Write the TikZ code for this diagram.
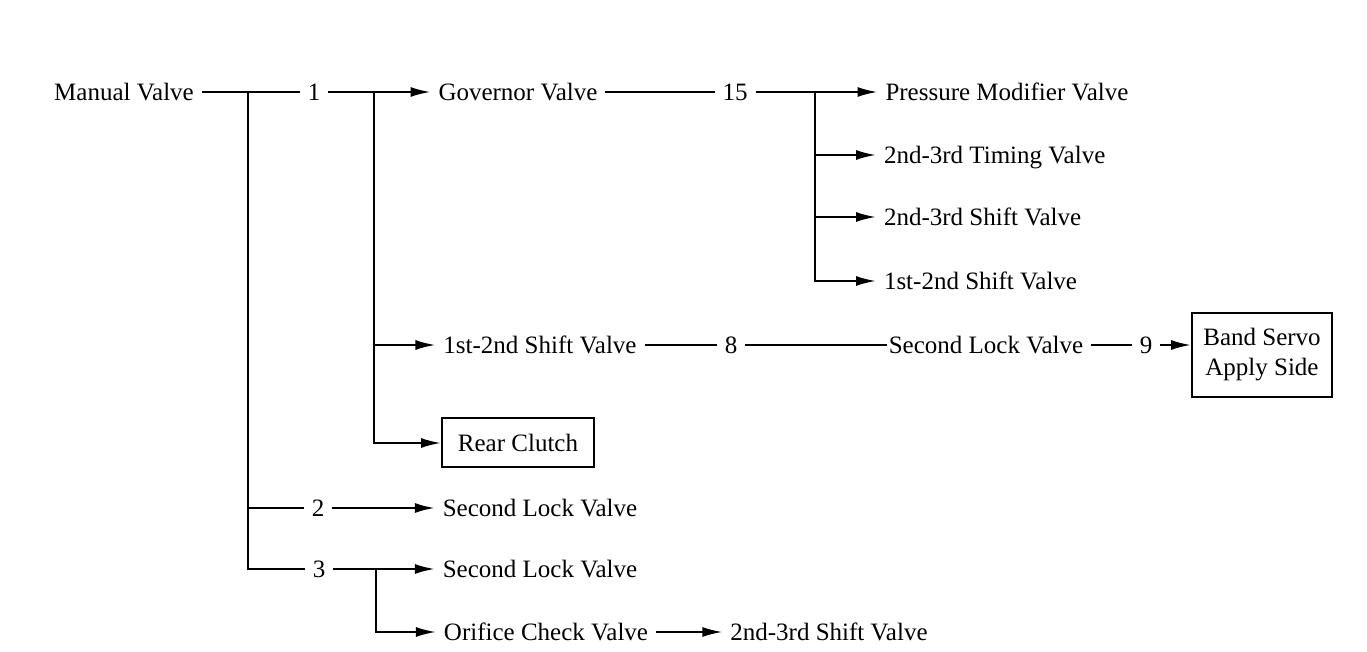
\documentclass[tikz,border=0pt]{standalone}
\usepackage{fontspec}
\setmainfont{Liberation Serif}
\usepackage{tikz}
\usetikzlibrary{positioning, arrows.meta}
\tikzstyle{lbl}=[inner sep=3.5pt, text height=8.3pt, text depth=0pt]
\tikzstyle{unit}=[draw, inner sep=3pt, align=center]

\begin{document}
\begin{tikzpicture}[x=0.5pt, y=-0.5pt, line width=1pt, > = {Latex[length=10pt,width=5pt]}, font=\fontsize{12.5}{15}\selectfont]
                    \useasboundingbox (0,0) rectangle (1367,652);
                    \node [lbl] (man) at (124,92) {Manual Valve};
                    \node [lbl, right of=man, node distance=95pt] (n1) {1};
                    \node [lbl, right of=n1, node distance=102pt] (gov) {Governor Valve};
                    \node [lbl, right of=gov, node distance=108.5pt] (n15) {15};
                    \node [lbl, right of=n15, node distance=136pt] (pmv) {Pressure Modifier Valve};
                    \node [lbl, anchor=west] (tim) at (876,155) {2nd-3rd Timing Valve};
                    \node [lbl, anchor=west] (sft) at (876,217) {2nd-3rd Shift Valve};
                    \node [lbl, anchor=west] (s12) at (876,281) {1st-2nd Shift Valve};
                    \node [lbl] (s12b) at (540,345) {1st-2nd Shift Valve};
                    \node [lbl, right of=s12b, node distance=95.5pt] (n8) {8};
                    \node [lbl, right of=n8, node distance=127.5pt] (slv) {Second Lock Valve};
                    \node [lbl, right of=slv, node distance=80pt] (n9) {9};
                    \node [unit, minimum width=70pt, minimum height=42pt] (servo) at (1262,355) {Band Servo\\Apply Side};
                    \node [unit, minimum width=76pt, minimum height=24.5pt, text height=8.3pt, text depth=0pt] (rc) at (518,443) {Rear Clutch};
                    \node [lbl] (n2) at (318,508) {2};
                    \node [lbl, right of=n2, node distance=111pt] (sl2) {Second Lock Valve};
                    \node [lbl] (n3) at (319,569) {3};
                    \node [lbl, right of=n3, node distance=110.5pt] (sl3) {Second Lock Valve};
                    \node [lbl] (ocv) at (546,632) {Orifice Check Valve};
                    \node [lbl, right of=ocv, node distance=141.5pt] (s23b) {2nd-3rd Shift Valve};
                    \coordinate (j1) at (248,92);
                    \coordinate (j2) at (374,92);
                    \coordinate (j15) at (815,92);
                    \coordinate (j3) at (376,569);
                    \path (man) edge (n1);
                    \path[->] (n1) edge (gov);
                    \path (gov) edge (n15);
                    \path[->] (n15) edge (pmv);
                    \draw[->] (j15) |- (s12);
                    \draw[->] (j15 |- tim) -- (tim);
                    \draw[->] (j15 |- sft) -- (sft);
                    \draw[->] (j2) |- (rc);
                    \draw[->] (j2 |- s12b) -- (s12b);
                    \path (s12b) edge (n8);
                    \path (n8) edge[shorten >=-3pt] (slv);
                    \path (slv) edge (n9);
                    \draw[->] (n9) -- (n9 -| servo.west);
                    \draw (j1) |- (n3);
                    \draw (j1 |- n2) -- (n2);
                    \path[->] (n2) edge (sl2);
                    \path[->] (n3) edge (sl3);
                    \draw[->] (j3) |- (ocv);
                    \path[->] (ocv) edge (s23b);
                \end{tikzpicture}
\end{document}
